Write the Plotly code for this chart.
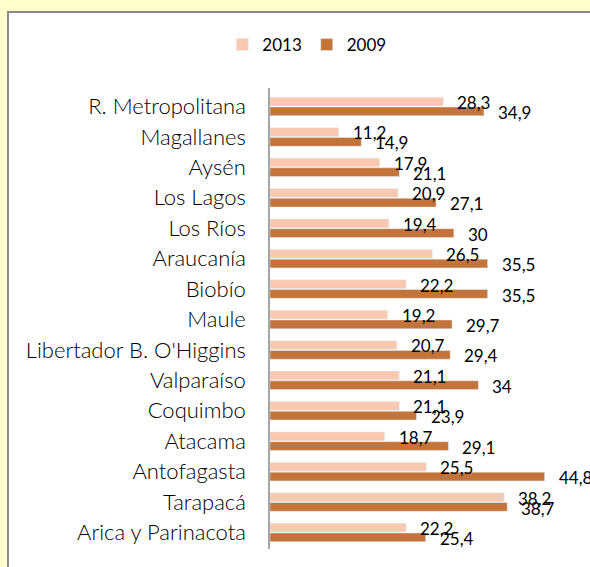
import plotly.graph_objects as go

regions = ["R. Metropolitana", "Magallanes", "Aysén", "Los Lagos", "Los Ríos",
           "Araucanía", "Biobío", "Maule", "Libertador B. O'Higgins", "Valparaíso",
           "Coquimbo", "Atacama", "Antofagasta", "Tarapacá", "Arica y Parinacota"]
v2013 = [28.3, 11.2, 17.9, 20.9, 19.4, 26.5, 22.2, 19.2, 20.7, 21.1, 21.1, 18.7, 25.5, 38.2, 22.2]
v2009 = [34.9, 14.9, 21.1, 27.1, 30.0, 35.5, 35.5, 29.7, 29.4, 34.0, 23.9, 29.1, 44.8, 38.7, 25.4]

c2013 = "#F8C9B0"
c2009 = "#C2743A"

def fmt(v):
    return ("%g" % v).replace(".", ",")

fig = go.Figure()
fig.add_trace(go.Bar(y=regions, x=v2013, name="2013", orientation="h",
                     marker=dict(color=c2013)))
fig.add_trace(go.Bar(y=regions, x=v2009, name="2009", orientation="h",
                     marker=dict(color=c2009)))

annos = []
for r, a, b in zip(regions, v2013, v2009):
    annos.append(dict(x=a, y=r, xref="x", yref="y", text=fmt(a), showarrow=False,
                      xanchor="left", yanchor="middle", xshift=12, yshift=4,
                      font=dict(family="Lato", size=17, color="#000000")))
    annos.append(dict(x=b, y=r, xref="x", yref="y", text=fmt(b), showarrow=False,
                      xanchor="left", yanchor="middle", xshift=12, yshift=-6,
                      font=dict(family="Lato", size=17, color="#000000")))

L, T, W, H = 270, 88, 320, 461
fig.update_layout(
    width=590, height=567,
    margin=dict(l=L, r=0, t=T, b=567 - T - H, pad=0, autoexpand=False),
    paper_bgcolor="#FFFFCC",
    plot_bgcolor="white",
    barmode="group", bargap=0.36, bargroupgap=0.1,
    font=dict(family="Lato", color="#000000"),
    showlegend=True,
    legend=dict(orientation="h", xref="container", yref="container",
                x=0.52, y=1 - 45 / 567, xanchor="center", yanchor="middle",
                font=dict(family="Lato", size=17), itemwidth=30,
                bgcolor="rgba(0,0,0,0)", traceorder="normal"),
    xaxis=dict(visible=False, range=[0, W / 6.13], fixedrange=True, automargin=False),
    yaxis=dict(autorange="reversed", showline=True, linecolor="#A6A6A6", linewidth=1.5,
               ticks="", showgrid=False, automargin=False,
               tickfont=dict(family="Lato", size=22, color="#000000", weight=300),
               ticklabelstandoff=18),
    annotations=annos,
    shapes=[dict(type="rect", xref="paper", yref="paper",
                 x0=(8 - L) / W, x1=(620 - L) / W,
                 y0=-0.2, y1=1 + (T - 12) / H,
                 fillcolor="white", line=dict(color="#8A8A8A", width=2), layer="below")],
)

fig.write_html("out.html")
